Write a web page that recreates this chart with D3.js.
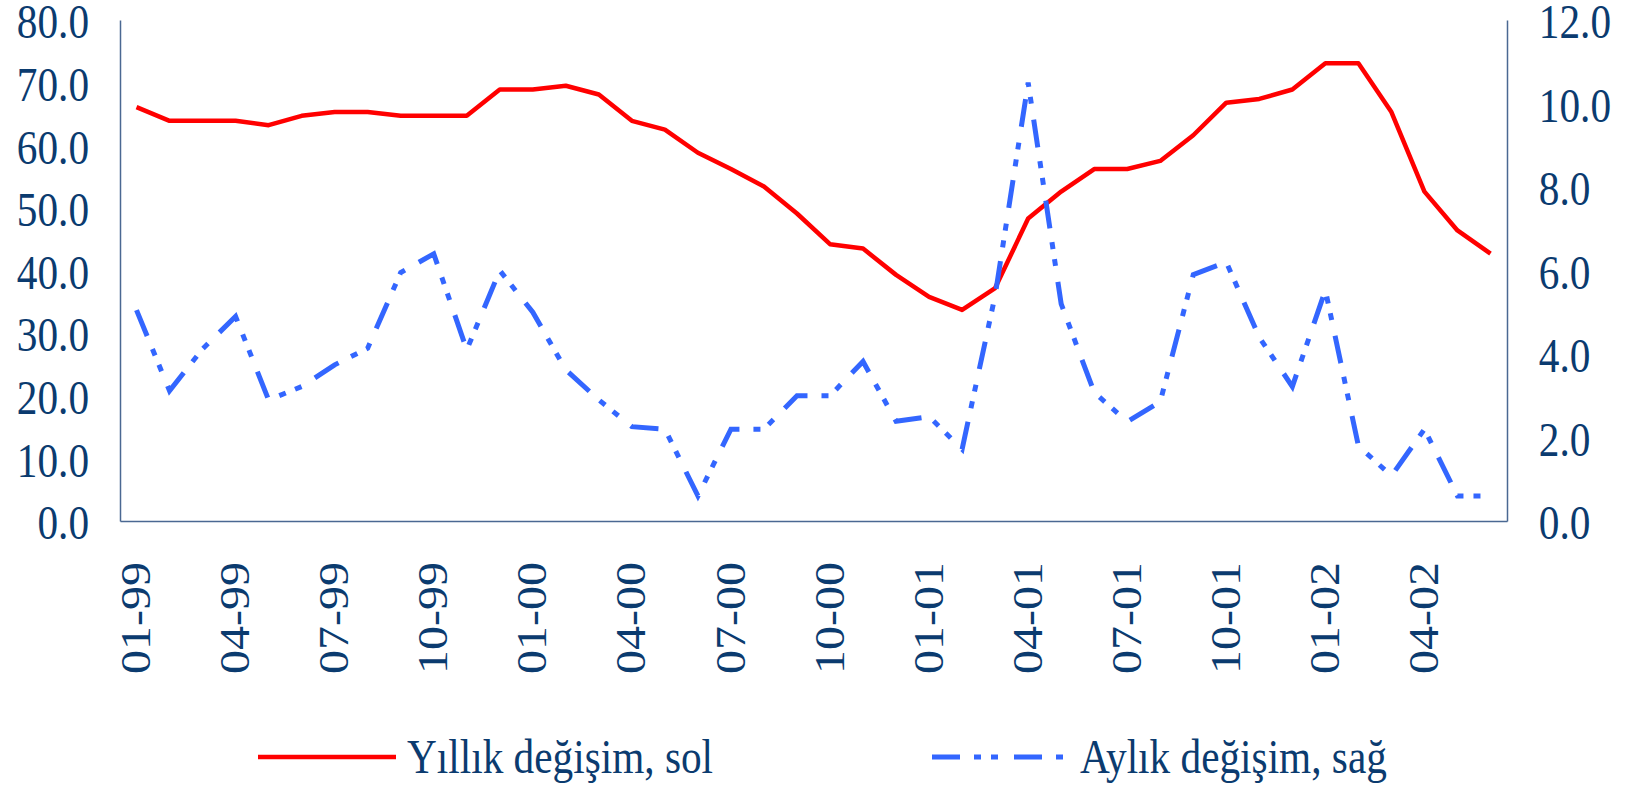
<!DOCTYPE html>
<html>
<head>
<meta charset="utf-8">
<script src="https://cdn.jsdelivr.net/npm/d3@7"></script>
<style>
  body { margin: 0; background: #fff; }
  svg { display: block; }
  text { font-family: "Liberation Serif", "Times New Roman", serif; }
</style>
</head>
<body>
<svg id="chart"></svg>
<script>
// monthly categories, 01-99 .. 06-02
const months = [
  '01-99', '02-99', '03-99', '04-99', '05-99', '06-99', '07-99', '08-99', '09-99', '10-99', '11-99', '12-99',
  '01-00', '02-00', '03-00', '04-00', '05-00', '06-00', '07-00', '08-00', '09-00', '10-00', '11-00', '12-00',
  '01-01', '02-01', '03-01', '04-01', '05-01', '06-01', '07-01', '08-01', '09-01', '10-01', '11-01', '12-01',
  '01-02', '02-02', '03-02', '04-02', '05-02', '06-02'
];
const shownLabels = months.filter((m, i) => i % 3 === 0);

// Yıllık değişim (left axis)
const annual = [
  66.1, 63.9, 63.9, 63.9, 63.2, 64.7, 65.3, 65.3, 64.7, 64.7, 64.7, 68.9,
  68.9, 69.5, 68.1, 63.9, 62.5, 58.8, 56.2, 53.4, 49.1, 44.2, 43.5, 39.3,
  35.8, 33.7, 37.2, 48.3, 52.6, 56.2, 56.2, 57.5, 61.6, 66.8, 67.4, 68.9,
  73.1, 73.1, 65.3, 52.6, 46.4, 42.7
];
// Aylık değişim (right axis)
const monthly = [
  5.05, 3.12, 4.12, 4.9, 2.9, 3.22, 3.74, 4.14, 5.95, 6.4, 4.1, 6.0,
  5.0, 3.62, 2.9, 2.26, 2.2, 0.6, 2.2, 2.2, 3.0, 3.0, 3.82, 2.39,
  2.5, 1.72, 5.4, 10.5, 5.2, 3.08, 2.38, 2.86, 5.9, 6.2, 4.4, 3.22,
  5.53, 1.8, 1.08, 2.2, 0.6, 0.6
];

const leftTicks = d3.range(0, 81, 10);
const rightTicks = d3.range(0, 13, 2);

const W = 1637, H = 785;
const plot = { left: 120, right: 1507, top: 20, bottom: 521 };
const ink = '#0b3b6f';
const axisColor = '#4a6892';
const squeeze = 'scale(0.86,1)';

const svg = d3.select('#chart').attr('width', W).attr('height', H);
svg.append('rect').attr('width', W).attr('height', H).attr('fill', '#fff');

const x = d3.scaleBand().domain(months).range([plot.left, plot.right]);
const xc = d => x(d) + x.bandwidth() / 2;
const yL = d3.scaleLinear().domain([0, 80]).range([plot.bottom, plot.top]);
const yR = d3.scaleLinear().domain([0, 12]).range([plot.bottom, plot.top]);

function styleAxis(g) {
  g.select('.domain').attr('stroke', axisColor).attr('stroke-width', 1.5);
  g.selectAll('.tick line').remove();
  g.selectAll('text').attr('fill', ink).attr('font-size', 48)
    .attr('font-family', '"Liberation Serif", "Times New Roman", serif');
}

// left axis
svg.append('g')
  .attr('transform', `translate(${plot.left},0)`)
  .call(d3.axisLeft(yL).tickValues(leftTicks).tickFormat(d3.format('.1f')).tickSize(0).tickSizeOuter(0).tickPadding(36))
  .call(styleAxis)
  .call(g => g.selectAll('text').attr('dy', '0.37em').attr('transform', squeeze));

// right axis
svg.append('g')
  .attr('transform', `translate(${plot.right},0)`)
  .call(d3.axisRight(yR).tickValues(rightTicks).tickFormat(d3.format('.1f')).tickSize(0).tickSizeOuter(0).tickPadding(37))
  .call(styleAxis)
  .call(g => g.selectAll('text').attr('dy', '0.37em').attr('transform', squeeze));

// bottom axis with rotated labels
svg.append('g')
  .attr('transform', `translate(0,${plot.bottom})`)
  .call(d3.axisBottom(x).tickValues(shownLabels).tickSize(0).tickSizeOuter(0))
  .call(styleAxis)
  .call(g => g.selectAll('text')
    .attr('x', 0).attr('y', 0).attr('dy', '0.33em')
    .attr('text-anchor', 'end')
    .attr('transform', `translate(0,41) ${squeeze} rotate(-90)`));

// series
const redLine = d3.line().x((d, i) => xc(months[i])).y(d => yL(d));
const blueLine = d3.line().x((d, i) => xc(months[i])).y(d => yR(d));
const dashes = '28,14,7,10,7,16';

svg.append('path')
  .datum(annual)
  .attr('d', redLine)
  .attr('fill', 'none')
  .attr('stroke', '#ff0000')
  .attr('stroke-width', 4.5)
  .attr('stroke-linejoin', 'round');

svg.append('path')
  .datum(monthly)
  .attr('d', blueLine)
  .attr('fill', 'none')
  .attr('stroke', '#3366ff')
  .attr('stroke-width', 5)
  .attr('stroke-dasharray', dashes)
  .attr('stroke-linejoin', 'miter');

// legend
const legend = svg.append('g');
const legendItems = [
  { label: 'Yıllık değişim, sol', color: '#ff0000', x1: 258, x2: 396, tx: 407, dash: null, w: 4.5 },
  { label: 'Aylık değişim, sağ', color: '#3366ff', x1: 932, x2: 1068, tx: 1080, dash: dashes, w: 5 }
];
legendItems.forEach(it => {
  legend.append('line')
    .attr('x1', it.x1).attr('x2', it.x2).attr('y1', 757).attr('y2', 757)
    .attr('stroke', it.color).attr('stroke-width', it.w)
    .attr('stroke-dasharray', it.dash);
  legend.append('text')
    .attr('transform', `translate(${it.tx},773) ${squeeze}`)
    .attr('fill', ink).attr('font-size', 48)
    .text(it.label);
});
</script>
</body>
</html>
